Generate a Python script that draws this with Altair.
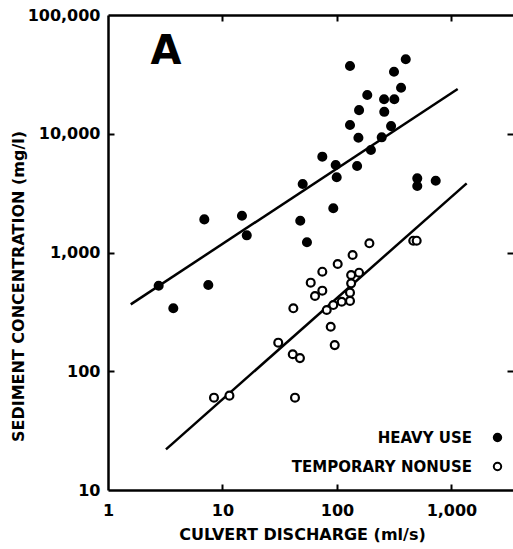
import altair as alt
import pandas as pd

# ---- data (log-log) ----
groups = ["HEAVY USE", "TEMPORARY NONUSE"]

heavy_q = [130, 399, 315, 363, 184, 258, 317, 156, 259, 130, 297, 154, 246, 198,
           74.5, 97.5, 150, 99.5, 50.2, 503, 503, 729, 92.9, 6.94, 14.8, 16.3,
           47.8, 54.7, 2.77, 7.52, 3.72]
heavy_c = [37200, 42400, 33300, 24400, 21200, 19500, 19500, 15800, 15300, 11850,
           11600, 9260, 9330, 7300, 6410, 5460, 5350, 4300, 3770, 4210, 3630, 4020,
           2360, 1900, 2040, 1395, 1850, 1220, 525, 532, 339]

nonuse_q = [192, 464, 497, 137, 101.5, 74.5, 59, 133, 156, 133, 74.5, 64.3, 130,
            130, 110, 92.9, 81.4, 41.6, 88.2, 95.6, 30.7, 41.1, 47.5, 43, 8.43, 11.5]
nonuse_c = [1195, 1257, 1257, 953, 800, 689, 557, 646, 676, 550, 477, 430, 459,
            391, 385, 361, 328, 339, 237, 166, 174, 139, 129, 59.9, 59.9, 62.3]

# fitted lines (end points)
heavy_line_q = [1.58, 1134]
heavy_line_c = [366, 23800]
nonuse_line_q = [3.21, 1359]
nonuse_line_c = [22.0, 3825]

x_label_values = [1, 10, 100, 1000]
x_tick_values = [10, 100, 1000]
y_label_values = [10, 100, 1000, 10000, 100000]
y_tick_values = [100, 1000, 10000]

pts = pd.DataFrame({
    "discharge": heavy_q + nonuse_q,
    "concentration": heavy_c + nonuse_c,
    "group": [groups[0]] * len(heavy_q) + [groups[1]] * len(nonuse_q),
})
lines = pd.DataFrame({
    "discharge": heavy_line_q + nonuse_line_q,
    "concentration": heavy_line_c + nonuse_line_c,
    "group": [groups[0]] * 2 + [groups[1]] * 2,
})
panel = pd.DataFrame({"label": ["A"]})

W, H = 405, 475
FONT = "DejaVu Sans"
xscale = alt.Scale(type="log", domain=[1, 3450], nice=False)
yscale = alt.Scale(type="log", domain=[10, 100000], nice=False)

x_main = alt.Axis(orient="bottom", values=x_label_values, format=",d", ticks=False, tickSize=0,
                  grid=False, domainColor="black", domainWidth=2.5, labelPadding=12,
                  labelFont=FONT, labelFontSize=16, labelFontWeight="bold", labelColor="black",
                  labelFlush=False, title="CULVERT DISCHARGE (ml/s)", titleFont=FONT,
                  titleFontSize=16, titleFontWeight="bold", titleColor="black",
                  titlePadding=8, titleX=194)
y_main = alt.Axis(orient="left", values=y_label_values, format=",d", ticks=False, tickSize=0,
                  grid=False, domainColor="black", domainWidth=2.5, labelPadding=8,
                  labelFont=FONT, labelFontSize=16, labelFontWeight="bold", labelColor="black",
                  labelFlush=False, title="SEDIMENT CONCENTRATION (mg/l)", titleFont=FONT,
                  titleFontSize=16, titleFontWeight="bold", titleColor="black",
                  titlePadding=1, titleY=271)

def tick_axis(orient, values, offset, domain=False):
    return alt.Axis(orient=orient, values=values, offset=offset, labels=False, domain=domain,
                    domainColor="black", domainWidth=2.5, grid=False, ticks=True, tickSize=6,
                    tickWidth=2, tickColor="black", title=None)

legend = alt.Legend(title=None, orient="none", legendX=382, legendY=415, direction="vertical",
                    labelFont=FONT, labelFontSize=15, labelFontWeight="bold", labelColor="black",
                    labelAlign="right", labelOffset=alt.ExprRef(expr="-33"), labelLimit=0,
                    symbolType="circle", symbolSize=55, symbolStrokeColor="black",
                    symbolStrokeWidth=2, rowPadding=12, padding=0)

points = alt.Chart(pts).mark_point(shape="circle", size=62, strokeWidth=2.2, opacity=1,
                                   fillOpacity=1, stroke="black").encode(
    x=alt.X("discharge:Q", scale=xscale, axis=x_main),
    y=alt.Y("concentration:Q", scale=yscale, axis=y_main),
    fill=alt.Fill("group:N", scale=alt.Scale(domain=groups, range=["black", "white"]), legend=legend),
)

fit = alt.Chart(lines).mark_line(color="black", strokeWidth=2.5).encode(
    x=alt.X("discharge:Q", scale=xscale, axis=None),
    y=alt.Y("concentration:Q", scale=yscale, axis=None),
    detail="group:N",
)

ticks_a = alt.Chart(pts).mark_point(opacity=0).encode(
    x=alt.X("discharge:Q", scale=xscale, axis=tick_axis("top", x_tick_values, -H)),
    y=alt.Y("concentration:Q", scale=yscale, axis=tick_axis("right", y_tick_values, -W)),
)
ticks_b = alt.Chart(pts).mark_point(opacity=0).encode(
    x=alt.X("discharge:Q", scale=xscale, axis=tick_axis("bottom", x_tick_values, -H, domain=True)),
    y=alt.Y("concentration:Q", scale=yscale, axis=tick_axis("left", y_tick_values, -W)),
)

label_a = alt.Chart(panel).mark_text(font=FONT, fontSize=40, fontWeight="bold", color="black",
                                     align="center", baseline="alphabetic").encode(
    x=alt.value(58), y=alt.value(49), text="label:N")

chart = alt.layer(fit, points, ticks_a, ticks_b, label_a).resolve_axis(
    x="independent", y="independent"
).properties(
    width=W, height=H,
    autosize=alt.AutoSizeParams(type="none"),
    padding={"left": 108, "top": 15, "right": 0, "bottom": 59},
).configure_view(stroke=None).configure(background="white")

chart.save("out.html", embed_options={"renderer": "svg", "actions": False})
